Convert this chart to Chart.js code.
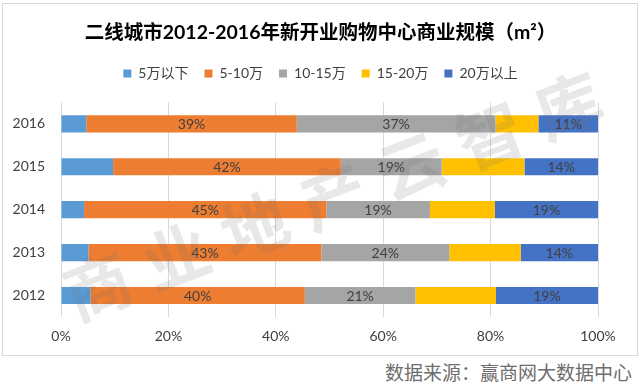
<!DOCTYPE html>
<html>
<head>
<meta charset="utf-8">
<script src="https://cdn.jsdelivr.net/npm/chart.js@4"></script>
<style>
  body { margin: 0; width: 640px; height: 391px; background: #fff; position: relative; overflow: hidden; }
  #frame { position: absolute; left: 2px; top: 3px; width: 634px; height: 351px; border: 1px solid #d9d9d9; }
  #source { position: absolute; right: 8px; top: 358px; font: 19px "Noto Sans CJK SC", serif; color: #6e6e6e; }
</style>
</head>
<body>
<div id="frame"><canvas id="chart"></canvas></div>
<div id="source">数据来源：赢商网大数据中心</div>
<script>
// Data
const years = ['2016', '2015', '2014', '2013', '2012'];
const seriesNames = ['5万以下', '5-10万', '10-15万', '15-20万', '20万以上'];
const under5 = [4.7, 9.7, 4.3, 5.1, 5.5];
const from5to10 = [39.2, 42.4, 45.1, 43.4, 39.9];
const from10to15 = [37.0, 18.8, 19.3, 23.8, 20.6];
const from15to20 = [8.0, 15.4, 12.1, 13.3, 15.0];
const over20 = [11.1, 13.7, 19.2, 14.4, 19.0];
const xTicks = [0, 20, 40, 60, 80, 100];
const labelled = [false, true, true, false, true];

const colors = ['#5b9bd5', '#ed7d31', '#a5a5a5', '#ffc000', '#4472c4'];
const font = 'Lato, "Noto Sans CJK SC", sans-serif';

// Draw value labels inside selected segments
const barLabels = {
    id: 'barLabels',
    afterDatasetsDraw(chart) {
        const ctx = chart.ctx;
        ctx.save();
        ctx.font = '14px ' + font;
        ctx.fillStyle = '#404040';
        ctx.textAlign = 'center';
        ctx.textBaseline = 'middle';
        chart.data.datasets.forEach((ds, i) => {
            if (!labelled[i]) return;
            chart.getDatasetMeta(i).data.forEach((bar, j) => {
                const p = bar.getProps(['x', 'base', 'y'], true);
                ctx.fillText(Math.round(ds.data[j]) + '%', (p.x + p.base) / 2, p.y + 1);
            });
        });
        ctx.restore();
    }
};

// Faint watermark across the plot
const watermark = {
    id: 'watermark',
    afterDraw(chart) {
        const ctx = chart.ctx;
        const text = '商业地产云智库';
        ctx.save();
        ctx.translate(330, 192);
        ctx.rotate(-21 * Math.PI / 180);
        ctx.font = 'bold 66px "Noto Sans CJK SC"';
        ctx.fillStyle = 'rgba(110, 110, 110, 0.16)';
        ctx.textAlign = 'center';
        ctx.textBaseline = 'middle';
        const step = 84;
        for (let i = 0; i < text.length; i++) {
            ctx.fillText(text[i], (i - 3) * step, 0);
        }
        ctx.restore();
    }
};

// Extra room under the legend, and centre title + legend on the whole box
const headerFix = {
    id: 'headerFix',
    beforeInit(chart) {
        const fit = chart.legend.fit;
        chart.legend.fit = function () {
            fit.bind(chart.legend)();
            this.height += 12;
        };
    },
    afterLayout(chart) {
        [chart.titleBlock, chart.legend].forEach(box => {
            box.left += 15;
            box.right += 15;
        });
    }
};

const values = [under5, from5to10, from10to15, from15to20, over20];

new Chart(document.getElementById('chart'), {
    type: 'bar',
    data: {
        labels: years,
        datasets: seriesNames.map((name, i) => ({
            label: name,
            data: values[i],
            backgroundColor: colors[i],
            borderWidth: 0,
            categoryPercentage: 1,
            barPercentage: 0.4
        }))
    },
    options: {
        indexAxis: 'y',
        responsive: true,
        maintainAspectRatio: false,
        animation: false,
        layout: { padding: { left: 10, right: 39, top: 0, bottom: 0 } },
        plugins: {
            title: {
                display: true,
                text: '二线城市2012-2016年新开业购物中心商业规模（m²）',
                color: '#000',
                font: { family: font, size: 19.5, weight: 'bold' },
                padding: { top: 17, bottom: 6 }
            },
            legend: {
                labels: {
                    color: '#404040',
                    font: { family: font, size: 14 },
                    boxWidth: 8,
                    boxHeight: 8,
                    padding: 16
                }
            },
            tooltip: { enabled: false }
        },
        scales: {
            x: {
                stacked: true,
                min: 0,
                max: 100,
                afterBuildTicks(axis) {
                    axis.ticks = xTicks.map(v => ({ value: v }));
                },
                afterFit(axis) {
                    axis.height = 38;
                },
                grid: { color: '#d9d9d9', drawTicks: false },
                border: { display: false },
                ticks: {
                    color: '#404040',
                    font: { family: font, size: 14 },
                    padding: 11,
                    callback: v => v + '%'
                }
            },
            y: {
                stacked: true,
                afterFit(axis) {
                    axis.width = 48;
                },
                grid: { display: false, drawTicks: false },
                border: { display: false },
                ticks: {
                    color: '#404040',
                    font: { family: font, size: 14 },
                    padding: 16
                }
            }
        }
    },
    plugins: [headerFix, barLabels, watermark]
});
</script>
</body>
</html>
